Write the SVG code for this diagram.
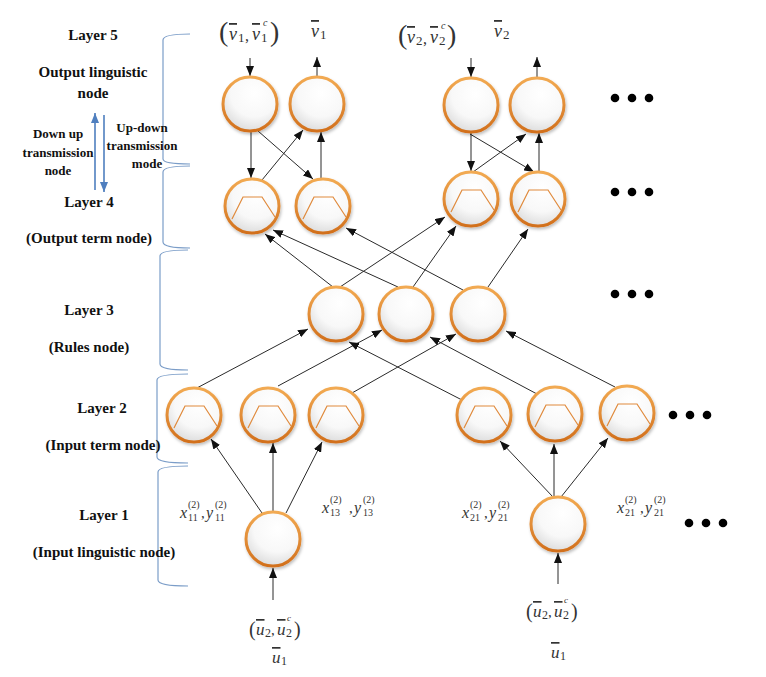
<svg xmlns="http://www.w3.org/2000/svg" width="766" height="677" viewBox="0 0 766 677">
<defs>
<radialGradient id="gf" cx="0.58" cy="0.3" r="0.8"><stop offset="0" stop-color="#ffffff"/><stop offset="0.55" stop-color="#f8f8f8"/><stop offset="1" stop-color="#d4d4d4"/></radialGradient>
<linearGradient id="gs" x1="0" y1="0" x2="0" y2="1"><stop offset="0" stop-color="#f2aa52"/><stop offset="1" stop-color="#d2701c"/></linearGradient>
<filter id="sh" x="-25%" y="-25%" width="160%" height="160%"><feDropShadow dx="1" dy="2" stdDeviation="1.5" flood-color="#000" flood-opacity="0.25"/></filter>
<marker id="ah" viewBox="0 0 10 8" refX="10" refY="4" markerWidth="10" markerHeight="8" markerUnits="userSpaceOnUse" orient="auto"><path d="M0,0 L10,4 L0,8 z" fill="#111"/></marker>
<marker id="bh" viewBox="0 0 10 8" refX="10" refY="4" markerWidth="10" markerHeight="8" markerUnits="userSpaceOnUse" orient="auto"><path d="M0,0 L10,4 L0,8 z" fill="#4f7fbf"/></marker>
</defs>
<style>
.node circle{fill:url(#gf);stroke:url(#gs);stroke-width:3;filter:url(#sh)}
.mf{fill:none;stroke:#e08a3c;stroke-width:1.2}
.edge{stroke:#2a2a2a;stroke-width:1;fill:none;marker-end:url(#ah)}
.lbl{font-family:"Liberation Serif",serif;font-weight:bold;font-size:15px;fill:#111;text-anchor:middle}
.sm{font-size:13px}
.m{font-family:"Liberation Serif",serif;fill:#333}
.i{font-style:italic}
.ov{text-decoration:overline}
.br{fill:none;stroke:#7b9dc8;stroke-width:1.2}
.blue{stroke:#4f7fbf;stroke-width:1.6;fill:none;marker-end:url(#bh)}
.dot{fill:#000}
</style>
<rect width="766" height="677" fill="#fff"/>

<!-- layer brackets -->
<g id="brackets">
<path class="br" d="M190,34 Q163,34 163,40 L163,159 Q163,164 190,164"/>
<path class="br" d="M190,166 Q163,166 163,172 L163,242 Q163,248 190,248"/>
<path class="br" d="M188,250 Q160,250 160,256 L160,364 Q160,370 188,370"/>
<path class="br" d="M188,374 Q157,374 157,380 L157,457 Q157,463 188,463"/>
<path class="br" d="M188,466 Q158,466 158,472 L158,580 Q158,586 188,586"/>
</g>

<!-- left labels -->
<g id="labels">
<text class="lbl" x="93" y="40">Layer 5</text>
<text class="lbl" x="93" y="77">Output  linguistic</text>
<text class="lbl" x="93" y="98">node</text>
<text class="lbl sm" x="58" y="138">Down up</text>
<text class="lbl sm" x="58" y="157">transmission</text>
<text class="lbl sm" x="58" y="175">node</text>
<text class="lbl sm" x="142" y="132">Up-down</text>
<text class="lbl sm" x="142" y="150">transmission</text>
<text class="lbl sm" x="147" y="168">mode</text>
<text class="lbl" x="89" y="207">Layer 4</text>
<text class="lbl" x="89" y="243">(Output  term  node)</text>
<text class="lbl" x="89" y="315">Layer 3</text>
<text class="lbl" x="89" y="352">(Rules node)</text>
<text class="lbl" x="102" y="413">Layer 2</text>
<text class="lbl" x="103" y="450">(Input  term node)</text>
<text class="lbl" x="104" y="520">Layer 1</text>
<text class="lbl" x="104" y="557">(Input  linguistic  node)</text>
<line class="blue" x1="95" y1="190" x2="95" y2="113"/>
<line class="blue" x1="104" y1="115" x2="104" y2="192"/>
</g>

<!-- connectors -->
<g id="connectors">
<line class="edge" x1="250" y1="58" x2="250" y2="76"/>
<line class="edge" x1="317" y1="76" x2="317" y2="57"/>
<line class="edge" x1="471" y1="58" x2="471" y2="77"/>
<line class="edge" x1="537" y1="77" x2="537" y2="57"/>

<line class="edge" x1="251" y1="131" x2="251" y2="178"/>
<line class="edge" x1="258" y1="131" x2="313" y2="179"/>
<line class="edge" x1="262" y1="180" x2="303" y2="130"/>
<line class="edge" x1="321" y1="178" x2="321" y2="132"/>

<line class="edge" x1="471" y1="133" x2="471" y2="171"/>
<line class="edge" x1="470" y1="134" x2="534" y2="172"/>
<line class="edge" x1="473" y1="172" x2="526" y2="134"/>
<line class="edge" x1="539" y1="171" x2="539" y2="133"/>

<line class="edge" x1="333" y1="287" x2="265" y2="234"/>
<line class="edge" x1="398" y1="287" x2="273" y2="230"/>
<line class="edge" x1="340" y1="287" x2="445" y2="217"/>
<line class="edge" x1="413" y1="287" x2="456" y2="226"/>
<line class="edge" x1="463" y1="290" x2="346" y2="228"/>
<line class="edge" x1="488" y1="287" x2="528" y2="229"/>

<line class="edge" x1="195" y1="389" x2="308" y2="329"/>
<line class="edge" x1="278" y1="386" x2="382" y2="330"/>
<line class="edge" x1="352" y1="393" x2="456" y2="334"/>
<line class="edge" x1="462" y1="400" x2="349" y2="342"/>
<line class="edge" x1="537" y1="394" x2="430" y2="337"/>
<line class="edge" x1="615" y1="387" x2="506" y2="331"/>

<line class="edge" x1="262" y1="513" x2="211" y2="439"/>
<line class="edge" x1="273" y1="511" x2="273" y2="443"/>
<line class="edge" x1="286" y1="513" x2="322" y2="442"/>
<line class="edge" x1="553" y1="497" x2="500" y2="441"/>
<line class="edge" x1="554" y1="496" x2="554" y2="444"/>
<line class="edge" x1="561" y1="497" x2="608" y2="438"/>

<line class="edge" x1="273" y1="600" x2="273" y2="568"/>
<line class="edge" x1="558" y1="584" x2="558" y2="553"/>
</g>

<!-- layer 5 -->
<g id="l5-1" class="node"><circle cx="250" cy="104" r="27"/></g>
<g id="l5-2" class="node"><circle cx="317" cy="104" r="27"/></g>
<g id="l5-3" class="node"><circle cx="471" cy="105" r="27"/></g>
<g id="l5-4" class="node"><circle cx="537" cy="105" r="27"/></g>
<!-- layer 4 -->
<g id="l4-1" class="node"><circle cx="252" cy="206" r="27"/><path class="mf" d="M232,219 L243,197 L262,197 L275,217"/></g>
<g id="l4-2" class="node"><circle cx="323" cy="206" r="27"/><path class="mf" d="M303,219 L314,197 L333,197 L346,217"/></g>
<g id="l4-3" class="node"><circle cx="471" cy="199" r="27"/><path class="mf" d="M451,212 L462,190 L481,190 L494,210"/></g>
<g id="l4-4" class="node"><circle cx="538" cy="199" r="27"/><path class="mf" d="M518,212 L529,190 L548,190 L561,210"/></g>
<!-- layer 3 -->
<g id="l3-1" class="node"><circle cx="336" cy="314" r="27"/></g>
<g id="l3-2" class="node"><circle cx="406" cy="314" r="27"/></g>
<g id="l3-3" class="node"><circle cx="478" cy="314" r="27"/></g>
<!-- layer 2 -->
<g id="l2-1" class="node"><circle cx="194" cy="415" r="27"/><path class="mf" d="M174,428 L185,406 L204,406 L217,426"/></g>
<g id="l2-2" class="node"><circle cx="268" cy="415" r="27"/><path class="mf" d="M248,428 L259,406 L278,406 L291,426"/></g>
<g id="l2-3" class="node"><circle cx="336" cy="415" r="27"/><path class="mf" d="M316,428 L327,406 L346,406 L359,426"/></g>
<g id="l2-4" class="node"><circle cx="484" cy="415" r="27"/><path class="mf" d="M464,428 L475,406 L494,406 L507,426"/></g>
<g id="l2-5" class="node"><circle cx="555" cy="414" r="27"/><path class="mf" d="M535,427 L546,405 L565,405 L578,425"/></g>
<g id="l2-6" class="node"><circle cx="627" cy="413" r="27"/><path class="mf" d="M607,426 L618,404 L637,404 L650,424"/></g>
<!-- layer 1 -->
<g id="l1-1" class="node"><circle cx="273" cy="539" r="27"/></g>
<g id="l1-2" class="node"><circle cx="558" cy="524" r="27"/></g>

<!-- ellipsis dots -->
<g id="dots">
<circle class="dot" cx="615" cy="98" r="4.3"/><circle class="dot" cx="632" cy="98" r="4.3"/><circle class="dot" cx="649" cy="98" r="4.3"/>
<circle class="dot" cx="615" cy="192" r="4.3"/><circle class="dot" cx="632" cy="192" r="4.3"/><circle class="dot" cx="649" cy="192" r="4.3"/>
<circle class="dot" cx="615" cy="294" r="4.3"/><circle class="dot" cx="632" cy="294" r="4.3"/><circle class="dot" cx="649" cy="294" r="4.3"/>
<circle class="dot" cx="673" cy="415" r="4.3"/><circle class="dot" cx="690" cy="415" r="4.3"/><circle class="dot" cx="707" cy="415" r="4.3"/>
<circle class="dot" cx="689" cy="523" r="4.3"/><circle class="dot" cx="706" cy="523" r="4.3"/><circle class="dot" cx="723" cy="523" r="4.3"/>
</g>

<!-- math labels -->
<g id="math">
<text class="m"><tspan x="219" y="41" font-size="28">(</tspan><tspan class="i ov" x="229" y="40" font-size="18">v</tspan><tspan x="238" y="42" font-size="13">1</tspan><tspan x="245" y="41" font-size="16">,</tspan><tspan class="i ov" x="252" y="40" font-size="18">v</tspan><tspan class="i" x="263" y="26" font-size="10">c</tspan><tspan x="261" y="42" font-size="13">1</tspan><tspan x="270" y="41" font-size="28">)</tspan></text>
<text class="m"><tspan class="i ov" x="311" y="37" font-size="18">v</tspan><tspan x="320" y="39" font-size="13">1</tspan></text>
<text class="m"><tspan x="398" y="44" font-size="28">(</tspan><tspan class="i ov" x="407" y="43" font-size="18">v</tspan><tspan x="416" y="45" font-size="13">2</tspan><tspan x="423" y="44" font-size="16">,</tspan><tspan class="i ov" x="430" y="43" font-size="18">v</tspan><tspan class="i" x="441" y="29" font-size="10">c</tspan><tspan x="439" y="45" font-size="13">2</tspan><tspan x="447" y="44" font-size="28">)</tspan></text>
<text class="m"><tspan class="i ov" x="494" y="37" font-size="18">v</tspan><tspan x="503" y="39" font-size="13">2</tspan></text>

<text class="m"><tspan x="249" y="636" font-size="20">(</tspan><tspan class="i ov" x="256" y="635" font-size="17">u</tspan><tspan x="265" y="637" font-size="12">2</tspan><tspan x="271" y="635" font-size="15">,</tspan><tspan class="i ov" x="277" y="635" font-size="17">u</tspan><tspan class="i" x="287" y="621" font-size="9">c</tspan><tspan x="286" y="637" font-size="12">2</tspan><tspan x="294" y="636" font-size="20">)</tspan></text>
<text class="m"><tspan class="i ov" x="272" y="663" font-size="17">u</tspan><tspan x="281" y="665" font-size="12">1</tspan></text>
<text class="m"><tspan x="526" y="618" font-size="20">(</tspan><tspan class="i ov" x="533" y="617" font-size="17">u</tspan><tspan x="542" y="619" font-size="12">2</tspan><tspan x="548" y="617" font-size="15">,</tspan><tspan class="i ov" x="554" y="617" font-size="17">u</tspan><tspan class="i" x="564" y="603" font-size="9">c</tspan><tspan x="563" y="619" font-size="12">2</tspan><tspan x="571" y="618" font-size="20">)</tspan></text>
<text class="m"><tspan class="i ov" x="551" y="658" font-size="17">u</tspan><tspan x="560" y="660" font-size="12">1</tspan></text>

<text class="m"><tspan class="i" x="180" y="518" font-size="16">x</tspan><tspan x="188" y="508" font-size="10">(2)</tspan><tspan x="188" y="521" font-size="10">11</tspan><tspan x="201" y="518" font-size="15">,</tspan><tspan class="i" x="206" y="518" font-size="16">y</tspan><tspan x="215" y="508" font-size="10">(2)</tspan><tspan x="215" y="521" font-size="10">11</tspan></text>
<text class="m"><tspan class="i" x="322" y="513" font-size="16">x</tspan><tspan x="330" y="503" font-size="10">(2)</tspan><tspan x="330" y="516" font-size="10">13</tspan><tspan x="349" y="513" font-size="15">,</tspan><tspan class="i" x="354" y="513" font-size="16">y</tspan><tspan x="363" y="503" font-size="10">(2)</tspan><tspan x="363" y="516" font-size="10">13</tspan></text>
<text class="m"><tspan class="i" x="462" y="518" font-size="16">x</tspan><tspan x="470" y="508" font-size="10">(2)</tspan><tspan x="470" y="521" font-size="10">21</tspan><tspan x="484" y="518" font-size="15">,</tspan><tspan class="i" x="489" y="518" font-size="16">y</tspan><tspan x="498" y="508" font-size="10">(2)</tspan><tspan x="498" y="521" font-size="10">21</tspan></text>
<text class="m"><tspan class="i" x="617" y="513" font-size="16">x</tspan><tspan x="625" y="503" font-size="10">(2)</tspan><tspan x="625" y="516" font-size="10">21</tspan><tspan x="640" y="513" font-size="15">,</tspan><tspan class="i" x="645" y="513" font-size="16">y</tspan><tspan x="654" y="503" font-size="10">(2)</tspan><tspan x="654" y="516" font-size="10">21</tspan></text>
</g>
</svg>
